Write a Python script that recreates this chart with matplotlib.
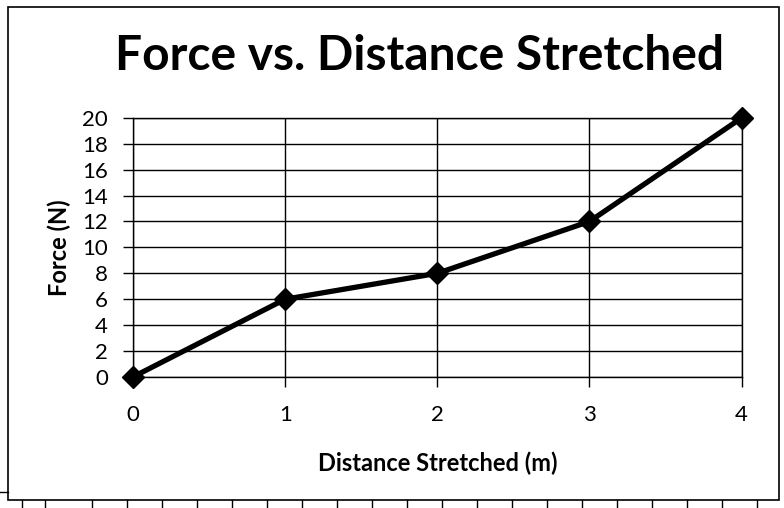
import matplotlib.pyplot as plt
from matplotlib.lines import Line2D
from matplotlib.patches import Rectangle

# data
distance = [0, 1, 2, 3, 4]
force = [0, 6, 8, 12, 20]
x_ticks = [0, 1, 2, 3, 4]
y_ticks = [0, 2, 4, 6, 8, 10, 12, 14, 16, 18, 20]

plt.rcParams['font.family'] = ['Lato', 'DejaVu Sans']

fig = plt.figure(figsize=(7.84, 5.08), dpi=100)
ax = fig.add_axes([0.1696, 0.258, 0.7764, 0.510])

ax.plot(distance, force, color='black', linewidth=3.8, marker='D',
        markersize=11, markerfacecolor='black', markeredgecolor='black',
        zorder=3, clip_on=False)

ax.set_xlim(0, 4)
ax.set_ylim(0, 20)
ax.set_xticks(x_ticks)
ax.set_yticks(y_ticks)
ax.grid(True, color='black', linewidth=1.0)
ax.set_axisbelow(True)
for s in ax.spines.values():
    s.set_color('black')
    s.set_linewidth(1.0)
ax.tick_params(axis='both', direction='out', length=7, width=1.0,
               labelsize=16, colors='black')
ax.tick_params(axis='x', pad=13)
ax.tick_params(axis='y', pad=11)

ax.set_xlabel('Distance Stretched (m)', fontsize=17, fontweight='bold', labelpad=19)
ax.set_ylabel('Force (N)', fontsize=17, fontweight='bold', labelpad=8)
fig.text(0.535, 1 - 70 / 508, 'Force vs. Distance Stretched', fontsize=34.5,
         fontweight='bold', ha='center', va='baseline')

# outer chart border
fig.patches.append(Rectangle((8 / 784, 1 - 500 / 508), 771 / 784, 493 / 508,
                             transform=fig.transFigure, fill=False,
                             edgecolor='black', linewidth=1.2))
# scan edge marks below the border
fig.lines.append(Line2D([0, 8 / 784], [1 - 492 / 508] * 2,
                        transform=fig.transFigure, color='black', linewidth=1))
for px in [22, 45] + list(range(92, 784, 35)):
    fig.lines.append(Line2D([px / 784] * 2, [0, 1 - 500 / 508],
                            transform=fig.transFigure, color='black', linewidth=1))

fig.savefig('out.png', dpi=100)
